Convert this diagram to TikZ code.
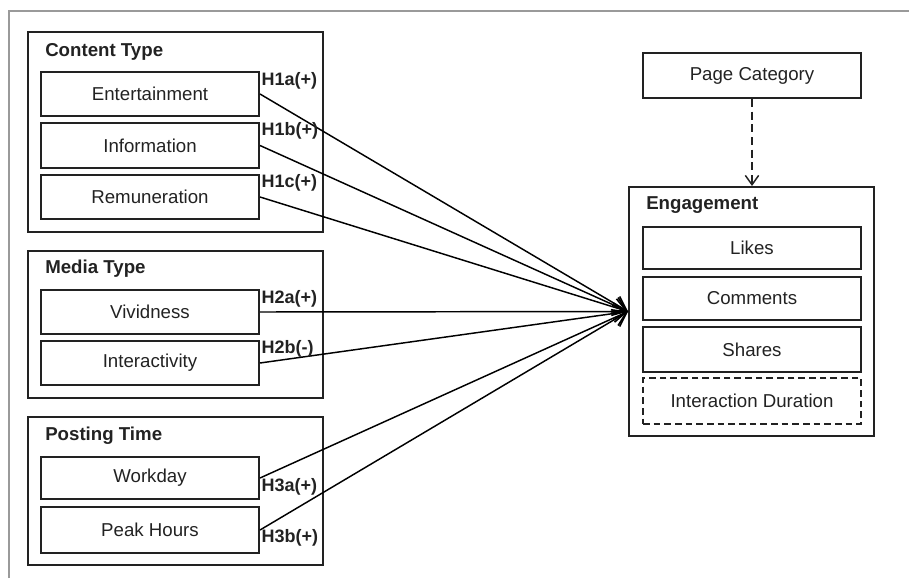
\documentclass[tikz,border=0pt]{standalone}
\usepackage{fontspec}
\setmainfont{Liberation Sans}
\usetikzlibrary{fit,arrows.meta}
\definecolor{ink}{HTML}{222222}
\definecolor{frame}{HTML}{9A9A9A}
\tikzset{
  itemtext/.style={inner sep=0pt, font=\fontsize{14}{16}\selectfont, text=ink},
  itembox/.style={draw=ink, line width=1.5pt, inner sep=0pt, fit={#1}},
  groupbox/.style={draw=ink, line width=1.5pt, inner sep=0pt, fit={#1}},
  grouptitle/.style={anchor=west, inner sep=0pt, font=\bfseries\fontsize{14}{16}\selectfont, text=ink},
  hyp/.style={inner sep=1pt, font=\bfseries\fontsize{13.5}{16}\selectfont, text=ink},
  link/.style={draw=black, line width=1.1pt, -{Straight Barb[length=10pt,width=13pt,line width=1.2pt]}},
  dashlink/.style={draw=ink, line width=1.1pt, dash pattern=on 6pt off 3.5pt,
    -{Straight Barb[length=7pt,width=10pt,line width=1.1pt]}}
}
\begin{document}
\begin{tikzpicture}[x=0.75pt,y=-0.75pt]
\useasboundingbox (0,0) rectangle (909,578);
% page frame
\draw[frame, line width=1.2pt] (9,578) -- (9,11) -- (909,11);

% independent variable groups
\node[groupbox={(28,32) (323,232)}] (content) {};
\node[grouptitle] (contentT) at (45,52) {Content Type};
\node[itembox={(41,72) (259,116)}] (ent) {};
\node[itemtext] (entT) at (ent.center) {Entertainment};
\node[itembox={(41,123) (259,168)}] (inf) {};
\node[itemtext] (infT) at (inf.center) {Information};
\node[itembox={(41,175) (259,219)}] (rem) {};
\node[itemtext] (remT) at (rem.center) {Remuneration};

\node[groupbox={(28,251) (323,398)}] (media) {};
\node[grouptitle] (mediaT) at (45,269) {Media Type};
\node[itembox={(41,290) (259,334)}] (viv) {};
\node[itemtext] (vivT) at (viv.center) {Vividness};
\node[itembox={(41,341) (259,385)}] (inter) {};
\node[itemtext] (interT) at (inter.center) {Interactivity};

\node[groupbox={(28,417) (323,565)}] (posting) {};
\node[grouptitle] (postingT) at (45,436) {Posting Time};
\node[itembox={(41,457) (259,499)}] (work) {};
\node[itemtext] (workT) at (work.center) {Workday};
\node[itembox={(41,507) (259,553)}] (peak) {};
\node[itemtext] (peakT) at (peak.center) {Peak Hours};

% dependent variable and control
\node[itembox={(643,53) (861,98)}] (page) {};
\node[itemtext] (pageT) at (page.center) {Page Category};
\node[groupbox={(629,187) (874,436)}] (eng) {};
\node[grouptitle] (engT) at (646,205) {Engagement};
\node[itembox={(643,227) (861,269)}] (likes) {};
\node[itemtext] (likesT) at (likes.center) {Likes};
\node[itembox={(643,277) (861,320)}] (comm) {};
\node[itemtext] (commT) at (comm.center) {Comments};
\node[itembox={(643,327) (861,372)}] (shares) {};
\node[itemtext] (sharesT) at (shares.center) {Shares};
\node[itembox={(643,378) (861,424)}, dash pattern=on 5pt off 3pt] (dur) {};
\node[itemtext] (durT) at (dur.center) {Interaction Duration};

% hypotheses
\foreach \src in {ent,inf,rem,viv,inter,work,peak}
  \draw[link] (\src.east) -- (eng.west);
\draw[dashlink] (page.south) -- (eng.north -| page.south);

% hypothesis labels
\node[hyp, anchor=west] (h1a) at (260,81) {H1a(+)};
\node[hyp, anchor=west] (h1b) at (260,131) {H1b(+)};
\node[hyp, anchor=west] (h1c) at (260,183) {H1c(+)};
\node[hyp, anchor=west] (h2a) at (260,299) {H2a(+)};
\node[hyp, anchor=west] (h2b) at (260,349) {H2b(-)};
\node[hyp, anchor=west] (h3a) at (260,487) {H3a(+)};
\node[hyp, anchor=west] (h3b) at (260,538) {H3b(+)};
\end{tikzpicture}
\end{document}
